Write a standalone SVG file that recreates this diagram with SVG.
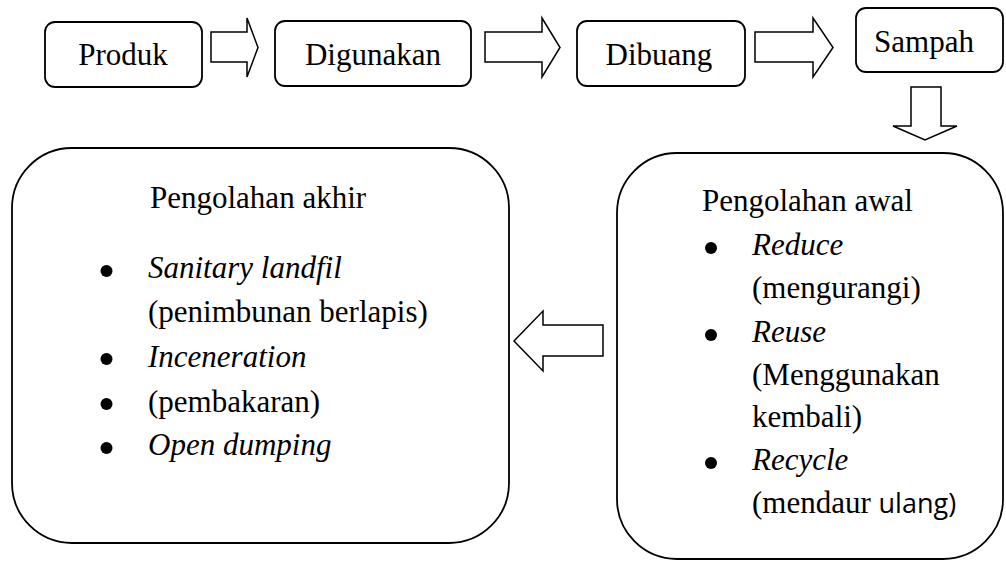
<svg xmlns="http://www.w3.org/2000/svg" width="1006" height="561" viewBox="0 0 1006 561">
  <style>
    .box { fill: #ffffff; stroke: #000000; stroke-width: 1.8; }
    .arrow { fill: #ffffff; stroke: #000000; stroke-width: 1.5; stroke-linejoin: miter; }
    .t { font-family: "Liberation Serif", "Times New Roman", serif; font-size: 31px; fill: #000000; }
    .c { text-anchor: middle; }
    .i { font-style: italic; }
    .sans { font-family: "Open Sans", "Liberation Sans", sans-serif; font-size: 27px; }
    .dot { fill: #000000; }
  </style>
  <rect width="1006" height="561" fill="#ffffff"/>

  <!-- top row of steps -->
  <g id="produk">
    <rect class="box" x="45" y="22" width="157" height="65" rx="10"/>
    <text class="t c" x="123" y="65">Produk</text>
  </g>
  <g id="digunakan">
    <rect class="box" x="275" y="21" width="196" height="65" rx="10"/>
    <text class="t c" x="373" y="65">Digunakan</text>
  </g>
  <g id="dibuang">
    <rect class="box" x="577" y="21" width="168" height="65" rx="10"/>
    <text class="t c" x="659" y="65">Dibuang</text>
  </g>
  <g id="sampah">
    <rect class="box" x="856" y="8" width="147" height="64" rx="10"/>
    <text class="t c" x="924" y="52">Sampah</text>
  </g>

  <!-- final processing -->
  <g id="pengolahan-akhir">
    <rect class="box" x="12" y="148" width="497" height="395" rx="60"/>
    <text class="t" x="150" y="208">Pengolahan akhir</text>
    <circle class="dot" cx="106.5" cy="271" r="6"/>
    <text class="t i" x="148" y="278">Sanitary landfil</text>
    <text class="t" x="148" y="322">(penimbunan berlapis)</text>
    <circle class="dot" cx="106.5" cy="359" r="6"/>
    <text class="t i" x="148" y="367">Inceneration</text>
    <circle class="dot" cx="106.5" cy="404" r="6"/>
    <text class="t" x="148" y="412">(pembakaran)</text>
    <circle class="dot" cx="106.5" cy="448" r="6"/>
    <text class="t i" x="148" y="455">Open dumping</text>
  </g>

  <!-- initial processing -->
  <g id="pengolahan-awal">
    <rect class="box" x="617" y="153" width="386" height="406" rx="60"/>
    <text class="t" x="702" y="211">Pengolahan awal</text>
    <circle class="dot" cx="711" cy="248" r="6"/>
    <text class="t i" x="752" y="255">Reduce</text>
    <text class="t" x="752" y="298">(mengurangi)</text>
    <circle class="dot" cx="711" cy="335" r="6"/>
    <text class="t i" x="752" y="342">Reuse</text>
    <text class="t" x="752" y="385">(Menggunakan</text>
    <text class="t" x="752" y="427">kembali)</text>
    <circle class="dot" cx="711" cy="463" r="6"/>
    <text class="t i" x="752" y="470">Recycle</text>
    <text class="t" x="752" y="513">(mendaur <tspan class="sans">ulang)</tspan></text>
  </g>

  <!-- block arrows -->
  <g id="connectors">
    <path class="arrow" d="M211,32 H247 V18 L258,47.5 L247,77 V62 H211 Z"/>
    <path class="arrow" d="M485,32 H542 V18 L560,47.5 L542,77 V62 H485 Z"/>
    <path class="arrow" d="M755,32 H813 V18 L833,47.5 L813,77 V62 H755 Z"/>
    <path class="arrow" d="M911,87 H941 V126 H957 L925,140 L893,126 H911 Z"/>
    <path class="arrow" d="M603,325 H543 V311 L514,341 L543,371 V356 H603 Z"/>
  </g>
</svg>
